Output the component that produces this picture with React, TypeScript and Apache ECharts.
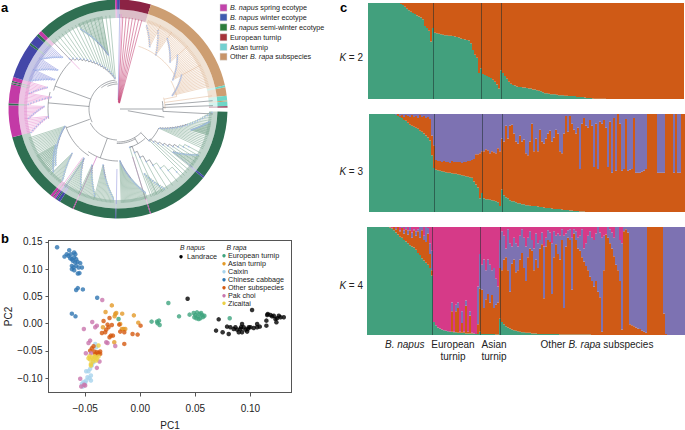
import React, { useEffect, useRef } from "react";
import * as echarts from "echarts";

const FONT = "'Liberation Sans', Arial, sans-serif";

// ---------- panel a ----------
const GREEN = "#2f6f52", MAG = "#c33aa6", BLUE = "#4447a8", DRED = "#8b2344", TAN = "#cd9e72", CYAN = "#6fd6c7", GAP = "#ffffff";
const ringSizes = [1, 16.5, 60, 1, 4.5, 2.5, 0.6, 2.4, 0.8, 2.2, 36.5, 1, 33.5, 0.5, 18, 0.5, 22.5, 0.5, 7.5, 1.5, 0.7, 0.8, 1, 0.5, 1.5, 37, 17, 1, 10, 0.7, 0.5, 0.7, 2.1, 19, 1, 5, 1.5, 2, 43, 1, 0.5];
const ringColors = [BLUE, DRED, TAN, CYAN, TAN, CYAN, TAN, CYAN, DRED, GAP, GREEN, BLUE, GREEN, MAG, GREEN, BLUE, GREEN, MAG, GREEN, BLUE, GREEN, BLUE, MAG, GREEN, MAG, GREEN, MAG, GREEN, MAG, GREEN, MAG, GREEN, MAG, BLUE, GREEN, BLUE, GREEN, MAG, GREEN, MAG, BLUE];

const legendA = [
  { c: "#c243ab", t: "{i|B. napus} spring ecotype" },
  { c: "#3f5bb0", t: "{i|B. napus} winter ecotype" },
  { c: "#2c7d3c", t: "{i|B. napus} semi-winter ecotype" },
  { c: "#a5333a", t: "European turnip" },
  { c: "#73d0d0", t: "Asian turnip" },
  { c: "#c79468", t: "Other {i|B. rapa} subspecies" },
];

const branchPalette = ["#5d636b", "#7fa892", "#e2bb9c", "#e78fd2", "#8f93dc", "#c23b6e", "#c957b8"];
// backbone arcs: radius, from angle, to angle, colour
const backboneArcs = [
  [33, 135, 182, 0], [34.5, 150, 182, 0], [31, 182, 243, 0], [29, 243, 355, 0], [27, 322, 358, 0], [25, 335, 359, 0],
  [45, 80, 93, 0], [47, 76, 90, 2], [55, 212, 252, 0], [67, 286, 315, 0], [70, 262, 284, 0], [52, 180, 215, 0],
  [45, 115, 136, 0], [40, 137, 163, 0], [60, 62, 78, 2], [66, 18, 62, 2],
];
// backbone radials: angle, inner radius, outer radius, colour
const backboneRadials = [
  [90, 2, 45, 0], [93, 45, 95, 0], [88, 45, 95, 0], [85, 47, 95, 0], [82, 47, 95, 2], [78, 47, 60, 2], [2, 9, 95, 3], [1, 9, 95, 4],
  [3, 7, 92, 5], [5, 7, 92, 5], [7, 6, 92, 5], [9, 6, 92, 5], [11, 6, 92, 5], [13, 6, 92, 5], [15, 6, 92, 5],
  [250, 30, 55, 0], [290, 29, 67, 0], [275, 29, 70, 0], [200, 31, 52, 0], [136, 33, 45, 0], [150, 33, 40, 0], [100, 10, 47, 0],
  [204, 52, 95, 6], [163, 50, 95, 6], [181, 60, 95, 4], [128, 70, 95, 4], [216, 60, 95, 3], [214, 60, 95, 4], [316, 55, 92, 3],
];
// ladder clades: start angle, end angle, start radius, end radius, branches, colour
const clades = [
  [76, 62, 56, 72, 15, 2], [62, 48, 62, 80, 15, 2], [48, 35, 70, 86, 15, 2], [35, 27, 66, 88, 11, 2], [27, 19, 70, 88, 10, 2],
  [115, 92, 46, 94, 22, 1], [106, 98, 76, 92, 16, 1], [135, 118, 44, 80, 9, 1], [128, 120, 70, 92, 14, 1],
  [163, 137, 40, 86, 8, 1], [158, 150, 70, 92, 10, 1], [178, 162, 52, 88, 24, 1], [215, 205, 60, 88, 14, 1], [205, 195, 62, 90, 14, 1], [195, 183, 58, 90, 16, 1],
  [252, 228, 56, 84, 26, 1], [240, 226, 72, 90, 18, 1], [226, 218, 64, 90, 14, 1],
  [272, 264, 74, 90, 10, 3], [264, 255, 70, 90, 10, 3], [287, 280, 74, 90, 9, 3], [280, 273, 68, 90, 9, 3],
  [313, 303, 76, 92, 12, 4], [303, 295, 72, 92, 11, 4], [295, 288, 70, 92, 10, 4],
  [355, 316, 31, 70, 17, 1], [350, 335, 55, 88, 20, 1],
];

// ---------- panel b ----------
const landrace = [[.043,.0457],[.1015,.025],[.0712,.0079],[.0688,-.0128],[.0748,-.0159],[.0803,-.0189],[.0788,-.0055],[.0818,-.0067],[.0848,-.0098],[.0879,-.011],[.0909,-.0098],[.0924,-.0006],[.0955,-.011],[.0985,-.0067],[.1,-.0067],[.0894,-.0159],[.0924,-.0159],[.097,-.0146],[.1061,-.0006],[.1061,-.0067],[.103,-.0079],[.1085,-.0055],[.1145,-.0037],[.1145,.0055],[.1152,.0159],[.1158,.0177],[.1182,.0159],[.1212,.0146],[.1227,.0085],[.1236,.0024],[.1258,.0146],[.1273,.0116],[.1303,.0116],[.1197,.0134],[.1242,.0098],[.0864,-.0067],[.0939,-.0067],[.0915,-.0067],[.0976,-.0098]];
const europeanTurnip = [[.0255,.0378],[.0103,.0037],[.0152,.0037],[.017,.0055],[.0176,-.0024],[.0158,.0006],[.0352,.0134],[.0448,.0165],[.0812,.0098],[-.0197,.0085],[.0485,.0195],[.05,.0159],[.0515,.0207],[.0521,.0134],[.0539,.0177],[.0545,.0098],[.0561,.0159],[.0582,.0146],[.0491,.0116],[.053,.0085],[.057,.0122],[.0509,.0098],[.0552,.0195]];
const asianTurnip = [[-.0258,.0335],[-.0315,.0213],[-.0227,.0177],[-.0218,.0195],[-.0233,.0134],[-.0164,.0183],[-.0058,.0152],[-.0018,.0018],[-.0182,-.0006],[-.0152,-.0098],[-.0136,-.0098],[-.0236,-.0341],[-.0339,-.0067],[-.0167,-.0098]];
const caixin = [[-.0409,-.0372],[-.04,-.0433],[-.0491,-.0872],[-.047,-.0872],[-.0455,-.0829],[-.0448,-.0951],[-.0479,-.0982],[-.0461,-.1],[-.0448,-.1043],[-.0491,-.1043],[-.0515,-.1073],[-.053,-.1104],[-.05,-.1085],[-.0521,-.1152],[-.0424,-.0707],[-.0439,-.0768]];
const chineseCabbage = [[-.0755,.14],[-.0688,.123],[-.0667,.1274],[-.0645,.1348],[-.0652,.1244],[-.063,.1274],[-.06,.1305],[-.059,.1274],[-.0636,.12],[-.0621,.1183],[-.06,.1213],[-.0582,.1183],[-.0612,.1152],[-.059,.1122],[-.057,.1134],[-.0545,.111],[-.053,.103],[-.0621,.106],[-.0606,.103],[-.0582,.106],[-.056,.103],[-.0621,.1],[-.06,.098],[-.0567,.092],[-.0552,.0927],[-.0582,.0616],[-.0567,.0652],[-.0521,.0628],[-.0391,.0476],[-.0621,.0183],[-.0588,.0134]];
const otherSubspecies = [[-.0279,.0104],[-.0333,.0049],[-.0258,-.0024],[-.0297,-.0018],[-.0191,-.0018],[-.0288,-.0067],[-.0309,-.011],[-.0348,-.0171],[-.0318,-.0159],[-.0267,-.022],[-.0279,-.025],[-.0248,-.022],[-.0182,-.0146],[-.0145,-.0159],[-.007,-.0189],[-.0024,-.0201],[-.0145,-.0372],[.0003,-.0037],[-.0455,-.0494],[-.0439,-.0451],[-.0424,-.0415],[-.0409,-.0555],[-.0394,-.0524],[-.0379,-.0537],[-.0364,-.0512],[-.0394,-.0573],[-.0364,-.0555],[-.0418,-.0512]];
const pakChoi = [[-.0345,.0433],[-.0436,.003],[-.0394,-.0037],[-.0409,-.0067],[-.0512,-.0098],[-.0309,-.0341],[-.0297,-.0354],[-.0227,-.0409],[-.0455,-.0311],[-.047,-.0354],[-.0494,-.0543],[-.0545,-.1012],[-.0536,-.1152],[-.0509,-.1122],[-.05,-.1134],[-.0448,-.0543],[-.037,-.0695],[-.0394,-.0811]];
const zicaitai = [[-.0379,-.0402],[-.047,-.0634],[-.0455,-.0659],[-.0439,-.0622],[-.0424,-.0646],[-.0409,-.0616],[-.0394,-.0646],[-.0379,-.0604],[-.043,-.0695],[-.04,-.0677],[-.0448,-.0738],[-.0448,-.0768],[-.0415,-.0598],[-.0461,-.0598]];
const scatterGroups = [
  { name: "Landrace", color: "#000000", data: landrace },
  { name: "European turnip", color: "#3fa47e", data: europeanTurnip },
  { name: "Asian turnip", color: "#e39a28", data: asianTurnip },
  { name: "Caixin", color: "#a7d3ec", data: caixin },
  { name: "Chinese cabbage", color: "#2f76b2", data: chineseCabbage },
  { name: "Other subspecies", color: "#d5590f", data: otherSubspecies },
  { name: "Pak choi", color: "#c976ad", data: pakChoi },
  { name: "Zicaitai", color: "#ecd044", data: zicaitai },
];
const xTicks = [-0.05, 0, 0.05, 0.1];
const yTicks = [-0.1, -0.05, 0, 0.05, 0.1, 0.15];

// ---------- panel c (percent heights, cumulative from the bottom) ----------
const k2Green = [100,100,100,100,100,100,100,100,100,100,100,100,100,100,100,100,99,98,96,94,92.5,91,89.5,88.5,87,86,85,83,76,74,71,60,74,69,68.5,68,67.5,67,66.5,66.5,66,66,65.5,65,64.5,64,63,62.5,62,61.5,61,58,51,46,43,27,32,26,25,24,23,22,20,18,15,11,30,27,24,21,18,16,14.5,14,13,12.5,12.5,12,12,11.5,11,11,10,10,9,8.5,8,7,6,6,5.5,5,5,5,4.5,4,4,4,3.5,3.5,3,3,3,3,2,2,2,2,1.5,1,1,1,.5,.3,.3,.3,.3,.3,.3,0,0,0,0,0,0,0,0,0,0,0,0,0,0,0,0,0,0,0,0,0,0,0,0,0,0,0,0,0,0,0,0,0,0,0,0,0,0,0];
const k3Green = [100,100,100,100,100,100,100,100,100,100,100,100,100,99.5,98,97,96,94,93,91,89,88,87,86,85,83,82,80,78,76,73,58,45,43,42.5,42,41.5,41,40.5,40,40,39.5,39,39,38.5,38,37.5,37,36.5,36,35.5,35,31,28,25,14,19.5,14,13,13,12.5,12,11.5,11,10,6,23,17,15,14,12,11,11,10,9,9,8,8,7,7,6.5,6,6,6,5.5,5,5,4.5,4,4,4,3.5,3,3,3,3,2.5,2,2,2,1.5,1.5,1,1,1,.5,.5,.5,0,0,0,0,0,0,0,0,0,0,0,0,0,0,0,0,0,0,0,0,0,0,0,0,0,0,0,0,0,0,0,0,0,0,0,0,0,0,0,0,0,0,0,0,0,0];
const k3GreenOrange = [100,100,100,100,100,100,100,100,100,100,100,100,100,99,100,98,99,97,99,98,97,99,97,98,96,99,97,98,96,97,95,78,68,53,52,52,51,52,51,51,50,52,51,51,51,51,50,51,51,52,52,53,54,59,59,60,62,62,64,63,60,62,61,60,65,62,75,72,88,75,88,89,80,72,70,78,72,74,60,58,72,90,62,75,62,84,72,70,75,80,83,72,76,84,80,62,60,80,98,82,98,90,84,80,86,44,90,96,88,86,94,88,46,90,44,92,90,94,86,46,92,40,96,42,100,90,42,44,95,42,43,44,96,40,40,40,41,42,44,100,100,100,100,100,40,40,40,40,100,100,100,100,40,100,40,40,100,100];
const k4Green = [100,100,100,100,100,100,100,100,100,100,100,99.5,98.5,97,95,93,91,90,88,86.5,85,83,82,81,79,76,74,71,69,67,65,62,55,12,9,7,6,5,4.5,4,3.5,3,3,2.5,2.5,2,2,2,2,1.5,1.5,1.5,1.5,1.5,1,1,3,1,1,1,1,1,1,1,.5,.5,15,12,10,8,7,6,5,4.5,4,3.5,3,2.5,2.5,2,2,2,1.5,1.5,1.5,1,1,1,1,1,1,1,1,1,1,1,.5,.5,.5,.5,.5,.5,.5,.5,.5,.5,.5,.5,.5,.5,.5,.5,0,0,0,0,0,0,0,0,0,0,0,0,0,0,0,0,0,0,0,0,0,0,0,0,0,0,0,0,0,0,0,0,0,0,0,0,0,0,0,0,0,0,0,0,0];
const k4GreenOrange = [100,100,100,100,100,100,100,100,100,100,100,100,99,100,98,100,96,99,94,98,93,97,90,97,92,96,90,97,88,86,94,75,60,12,9,7,6,5,4.5,4,3.5,3,22,3,22,25,3,11,3,27,3,18,2,1.5,1,10,43,42,25,33,38,30,37,25,28,30,62,60,70,72,60,40,66,70,58,60,70,76,62,50,72,80,78,60,70,62,80,84,34,82,88,86,38,72,84,75,70,88,25,82,90,88,42,94,88,80,78,72,68,64,60,54,50,45,50,40,35,3,60,93,90,85,80,73,65,60,50,5,96,98,95,10,9,8,7,6,5.5,4,3,2,100,100,100,100,100,100,100,100,20,1,0,0,0,0,0,0,0,0,0,0];
const k4GreenOrangePurple = [100,100,100,100,100,100,100,100,100,100,100,100,99,100,99,100,97,100,97,100,97,100,95,98,96,98,100,100,92,100,99,85,78,12,9,7,6,5,4.5,4,3.5,3,30,3,28,30,3,22,3,32,3,22,2,1.5,1,45,75,65,70,60,70,65,60,62,52,45,88,96,92,80,98,85,82,90,85,82,92,98,90,82,90,96,88,80,94,85,88,95,82,90,97,95,85,96,92,94,92,98,92,94,97,98,90,98,96,90,92,98,80,85,92,96,90,88,94,100,95,90,92,93,100,98,95,90,100,100,88,85,100,100,100,100,100,100,100,100,100,100,100,100,100,100,100,100,100,100,100,100,100,100,100,100,100,100,100,100,100,100,100];
const groupBoundaries = [32, 56, 66];
const K_GREEN = "#42a07d", K_ORANGE = "#cf5a16", K_PURPLE = "#7d72b2", K_PINK = "#d63a88";

const structureLabels = [
  { t: "{i|K} = 2", y: 57 }, { t: "{i|K} = 3", y: 171 }, { t: "{i|K} = 4", y: 285 },
];

function buildTree() {
  const segs: number[][] = [];
  const dots: number[][] = [];
  backboneArcs.forEach(([r, a, b, c]) => segs.push([r, r, a, b, c]));
  backboneRadials.forEach(([a, r0, r1, c]) => segs.push([r0, r1, a, a, c]));
  clades.forEach(([a0, a1, r0, r1, n, c]) => {
    let pa = a0, pr = r0;
    for (let i = 0; i < n; i++) {
      const t = n > 1 ? i / (n - 1) : 0;
      const a = a0 + (a1 - a0) * t;
      const r = r0 + (r1 - r0) * t;
      if (i > 0) {
        const sc = c === 1 && r < 72 ? 0 : c;
        segs.push([pr, pr, pa, a, sc]);
        segs.push([pr, r, a, a, sc]);
      }
      segs.push([r, 94, a, a, c]);
      dots.push([r, a]);
      pa = a;
      pr = r;
    }
  });
  return { segs, dots };
}

function richI(size: number, fill: string) {
  return { i: { fontStyle: "italic", fontSize: size, fontFamily: FONT, fill, color: fill } };
}

export default function App() {
  const ref = useRef<HTMLDivElement>(null);
  useEffect(() => {
    const chart = echarts.init(ref.current!, undefined, { renderer: "svg" });
    const { segs, dots } = buildTree();
    const ringData = ringSizes.map((v, i) => ({ value: v, itemStyle: { color: ringColors[i] } }));
    const bandData = ringSizes.map((v, i) => ({ value: v, itemStyle: { color: ringColors[i], opacity: ringColors[i] === GAP ? 0 : 0.3 } }));
    const pieBase = {
      type: "pie", center: [118, 109], startAngle: 90, clockwise: true, silent: true, label: { show: false }, labelLine: { show: false },
      minAngle: 0, itemStyle: { borderWidth: 0 }, stillShowZeroSum: false, emphasis: { disabled: true },
    };

    const structure = [
      { top: 3, h: 96, left: 368, w: 316, cum: [k2Green], cols: [K_GREEN, K_ORANGE] },
      { top: 114, h: 98, left: 369, w: 316, cum: [k3Green, k3GreenOrange], cols: [K_GREEN, K_ORANGE, K_PURPLE] },
      { top: 227, h: 108, left: 367, w: 318, cum: [k4Green, k4GreenOrange, k4GreenOrangePurple], cols: [K_GREEN, K_ORANGE, K_PURPLE, K_PINK] },
    ];
    const grids: any[] = [{ left: 48.5, top: 240.5, width: 243, height: 152, show: false, outerBoundsMode: "none" }];
    const axisLineB = { show: true, onZero: false, lineStyle: { color: "#555" } };
    const labelB = { fontSize: 10, fontFamily: FONT, color: "#222", formatter: (v: number) => v.toFixed(2).replace("-", "\u2212") };
    const xAxes: any[] = [{
      type: "value", gridIndex: 0, min: -0.0833, max: 0.1373, position: "bottom", name: "PC1", nameLocation: "middle", nameGap: 28,
      nameTextStyle: { fontSize: 10, fontFamily: FONT, color: "#222" },
      axisLine: axisLineB, splitLine: { show: false },
      axisTick: { show: true, length: 4, lineStyle: { color: "#555" }, customValues: xTicks },
      axisLabel: { ...labelB, margin: 11, customValues: xTicks },
    }];
    const yAxes: any[] = [{
      type: "value", gridIndex: 0, min: -0.1263, max: 0.1525, position: "left", name: "PC2", nameLocation: "middle", nameGap: 33,
      nameTextStyle: { fontSize: 10, fontFamily: FONT, color: "#222" },
      axisLine: axisLineB, splitLine: { show: false },
      axisTick: { show: true, length: 3, lineStyle: { color: "#555" }, customValues: yTicks },
      axisLabel: { ...labelB, margin: 6, customValues: yTicks },
    }];
    // box closing edges
    xAxes.push({ ...xAxes[0], position: "top", name: "", axisTick: { show: false }, axisLabel: { show: false } });
    yAxes.push({ ...yAxes[0], position: "right", name: "", axisTick: { show: false }, axisLabel: { show: false } });

    const series: any[] = [
      { ...pieBase, radius: [91, 99.5], data: bandData, z: 1 },
      { ...pieBase, radius: [99.5, 109.5], data: ringData, z: 4 },
      {
        type: "custom", coordinateSystem: "polar", polarIndex: 0, silent: true, clip: false, z: 2,
        encode: { radius: 0, angle: 2 }, data: segs,
        renderItem: (_: any, api: any) => {
          const r0 = api.value(0), r1 = api.value(1), a0 = api.value(2), a1 = api.value(3);
          const pts: number[][] = [];
          if (r0 === r1) {
            const steps = Math.max(1, Math.ceil(Math.abs(a1 - a0) / 3));
            for (let i = 0; i <= steps; i++) pts.push(api.coord([r0, a0 + ((a1 - a0) * i) / steps]));
          } else {
            pts.push(api.coord([r0, a0]), api.coord([r1, a1]));
          }
          return { type: "polyline", shape: { points: pts }, style: { stroke: branchPalette[api.value(4)], fill: "none", lineWidth: 0.55 } };
        },
      },
      {
        type: "scatter", coordinateSystem: "polar", polarIndex: 0, silent: true, data: dots, symbolSize: 1.5, z: 3,
        itemStyle: { color: "#9db8ea" },
      },
    ];
    scatterGroups.forEach((g) => series.push({
      type: "scatter", name: g.name, xAxisIndex: 0, yAxisIndex: 0, data: g.data, symbolSize: 4.5, itemStyle: { color: g.color }, silent: true,
    }));

    structure.forEach((p, idx) => {
      const gi = idx + 1;
      const axIndex = xAxes.length;
      const n = p.cum[p.cum.length - 1].length;
      grids.push({ left: p.left, top: p.top, width: p.w, height: p.h, show: false, outerBoundsMode: "none" });
      xAxes.push({ type: "category", gridIndex: gi, data: Array.from({ length: n }, (_, i) => String(i)), show: false });
      yAxes.push({ type: "value", gridIndex: gi, min: 0, max: 100, show: false });
      p.cols.forEach((col, c) => {
        // each row: bar index, lower edge, upper edge of this ancestry layer
        const rows = Array.from({ length: n }, (_, i) => {
          const lo = c === 0 ? 0 : p.cum[c - 1][i] ?? 0;
          const hi = c < p.cum.length ? p.cum[c][i] ?? lo : 100;
          return [i, lo, hi];
        }).filter((r) => r[2] > r[1]);
        series.push({
          type: "custom", xAxisIndex: axIndex, yAxisIndex: axIndex, data: rows, encode: { x: 0, y: 2 }, silent: true, clip: false, z: 2 + c,
          renderItem: (_: any, api: any) => {
            const bw = api.size([1, 0])[0];
            const top = api.coord([api.value(0), api.value(2)]);
            const bot = api.coord([api.value(0), api.value(1)]);
            const x0 = Math.round(top[0] - bw / 2);
            const x1 = Math.round(top[0] + bw / 2);
            return { type: "rect", shape: { x: x0, y: top[1], width: x1 - x0, height: bot[1] - top[1] }, style: { fill: col } };
          },
          ...(c === p.cols.length - 1 ? {
            markLine: {
              silent: true, symbol: "none", label: { show: false }, z: 10,
              lineStyle: { color: "rgba(30,45,45,0.55)", width: 1, type: "solid" },
              data: groupBoundaries.map((b) => ({ xAxis: b })),
            },
          } : {}),
        });
      });
    });

    const text = (x: number, y: number, t: string, size: number, extra: any = {}) => ({
      type: "text", x, y, silent: true,
      style: { text: t, fontSize: size, fontFamily: FONT, fill: "#222", textVerticalAlign: "middle", verticalAlign: "middle", rich: richI(size, "#222"), ...extra },
    });
    const graphics: any[] = [
      text(1, 7, "a", 13, { fontWeight: "bold", fill: "#000" }),
      text(1, 238, "b", 13, { fontWeight: "bold", fill: "#000" }),
      text(340, 7, "c", 13, { fontWeight: "bold", fill: "#000" }),
    ];
    legendA.forEach((l, i) => {
      const y = [7.7, 17.3, 27.3, 37.3, 47, 56.7][i];
      graphics.push({ type: "rect", silent: true, shape: { x: 220, y: y - 3.5, width: 7, height: 7 }, style: { fill: l.c, stroke: "#d8d8d8", lineWidth: 0.5 } });
      graphics.push(text(230, y, l.t, 7.2));
    });
    graphics.push(text(180, 247, "B napus", 6.8, { fontStyle: "italic" }));
    graphics.push(text(226.5, 247, "B rapa", 6.8, { fontStyle: "italic" }));
    graphics.push({ type: "circle", silent: true, shape: { cx: 181, cy: 256.7, r: 1.7 }, style: { fill: "#000" } });
    graphics.push(text(187, 256.7, "Landrace", 7.2));
    scatterGroups.slice(1).forEach((g, i) => {
      const y = [255.7, 263.7, 271.7, 279.7, 287.7, 295.7, 303.3][i];
      graphics.push({ type: "circle", silent: true, shape: { cx: 224, cy: y, r: 1.7 }, style: { fill: g.color } });
      graphics.push(text(228, y, g.name, 7.2));
    });
    structureLabels.forEach((s) => graphics.push(text(363, s.y, s.t, 10, { align: "right", textAlign: "right" })));
    graphics.push(text(385, 344, "{i|B. napus}", 10));
    graphics.push(text(453, 344, "European", 10, { align: "center", textAlign: "center" }));
    graphics.push(text(453, 356, "turnip", 10, { align: "center", textAlign: "center" }));
    graphics.push(text(494, 344, "Asian", 10, { align: "center", textAlign: "center" }));
    graphics.push(text(494, 356, "turnip", 10, { align: "center", textAlign: "center" }));
    graphics.push(text(597, 344, "Other {i|B. rapa} subspecies", 10, { align: "center", textAlign: "center" }));

    chart.setOption({
      animation: false,
      backgroundColor: "#fff",
      polar: { center: [118, 109], radius: 109.5 },
      radiusAxis: { min: 0, max: 109.5, show: false, polarIndex: 0 },
      angleAxis: { min: 0, max: 360, startAngle: 90, clockwise: true, show: false, polarIndex: 0 },
      grid: grids, xAxis: xAxes, yAxis: yAxes, series, graphic: graphics,
    });
    return () => chart.dispose();
  }, []);
  return <div ref={ref} style={{ width: 685, height: 430, position: "absolute", left: 0, top: 0 }} />;
}
